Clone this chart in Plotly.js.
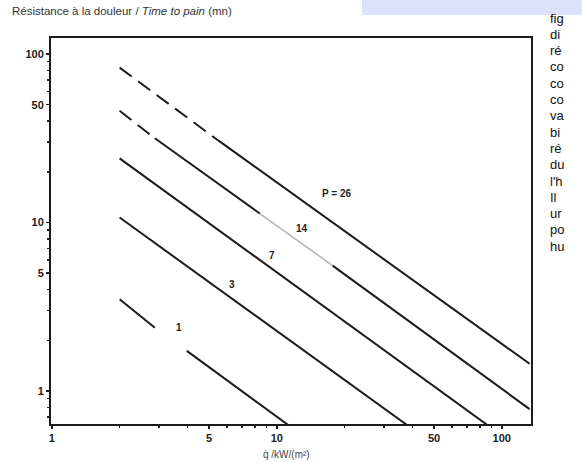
<!DOCTYPE html>
<html>
<head>
<meta charset="utf-8">
<script src="https://cdn.plot.ly/plotly-3.0.1.min.js"></script>
<style>
  html, body { margin: 0; padding: 0; background: #ffffff; overflow: hidden; }
  #chart { width: 582px; height: 462px; }
</style>
</head>
<body>
<div id="chart"></div>
<script>
// ---- data (q in kW/m², t in minutes) ----
const lineLabels = ['1', '3', '7', '14', 'P = 26'];

// P = 1 : solid with a gap around its label
const p1_q = [2, 2.87, null, 3.98, 11.2];
const p1_t = [3.5, 2.37, null, 1.73, 0.63];

// P = 3
const p3_q = [2, 37.8];
const p3_t = [10.7, 0.63];

// P = 7
const p7_q = [2, 86];
const p7_t = [24, 0.63];

// P = 14 : dashed start, faint part near its label, solid elsewhere
const p14_dash_q = [2, 2.87];
const p14_dash_t = [46, 31.6];
const p14_solid_q = [2.87, 8.4, null, 17.7, 133];
const p14_solid_t = [31.6, 11.3, null, 5.55, 0.78];
const p14_faint_q = [8.4, 17.7];
const p14_faint_t = [11.3, 5.55];

// P = 26 : dashed start, then solid
const p26_dash_q = [2, 5.47];
const p26_dash_t = [83, 30.8];
const p26_solid_q = [5.47, 133];
const p26_solid_t = [30.8, 1.45];

// label anchor points (q, t)
const label_q = [3.66, 6.3, 9.5, 12.9, 18.5];
const label_t = [2.37, 4.28, 6.37, 9.2, 14.9];

// axis ticks
const xTickVals = [1, 5, 10, 50, 100];
const yTickVals = [1, 5, 10, 50, 100];
const xMinor = [2, 3, 4, 6, 7, 8, 9, 20, 30, 40, 60, 70, 80, 90];
const yMinor = [0.7, 0.8, 0.9, 2, 3, 4, 6, 7, 8, 9, 20, 30, 40, 60, 70, 80, 90];

// clipped side text fragments
const sideText = ['fig', 'di', 'ré', 'co', 'co', 'co', 'va', 'bi', 'ré', 'du', "l'h", 'Il', 'ur', 'po', 'hu'];

const INK = '#1b1b1b';
const solid = {color: INK, width: 2};

const traces = [
  {x: p1_q, y: p1_t, mode: 'lines', line: solid, connectgaps: false},
  {x: p3_q, y: p3_t, mode: 'lines', line: solid},
  {x: p7_q, y: p7_t, mode: 'lines', line: solid},
  {x: p14_dash_q, y: p14_dash_t, mode: 'lines', line: {color: INK, width: 2, dash: '15px,8px'}},
  {x: p14_solid_q, y: p14_solid_t, mode: 'lines', line: solid, connectgaps: false},
  {x: p14_faint_q, y: p14_faint_t, mode: 'lines', line: {color: '#b4b4b4', width: 1.5}},
  {x: p26_dash_q, y: p26_dash_t, mode: 'lines', line: {color: INK, width: 2, dash: '15px,8px'}},
  {x: p26_solid_q, y: p26_solid_t, mode: 'lines', line: solid}
];

const FONT = 'Liberation Sans, Arial, sans-serif';

const annotations = lineLabels.map((txt, i) => ({
  x: Math.log10(label_q[i]), y: Math.log10(label_t[i]), xref: 'x', yref: 'y',
  text: '<b>' + txt + '</b>', showarrow: false,
  font: {family: FONT, size: 10, color: '#222'}
}));

annotations.push({
  xref: 'paper', yref: 'paper', x: -0.085, y: 1.0, yshift: 27,
  xanchor: 'left', yanchor: 'middle', showarrow: false,
  text: 'Résistance à la douleur / <i>Time to pain</i> (mn)',
  font: {family: FONT, size: 11.5, color: '#333'}
});

annotations.push({
  xref: 'paper', yref: 'paper', x: 0.49, y: 0, yshift: -30,
  xanchor: 'center', yanchor: 'middle', showarrow: false,
  text: 'q̇ /kW/(m²)',
  font: {family: FONT, size: 10, color: '#444'}
});

sideText.forEach((s, i) => {
  annotations.push({
    xref: 'paper', yref: 'paper', x: 1.035, y: 1, yshift: 20 - i * 16.3,
    xanchor: 'left', yanchor: 'middle', showarrow: false,
    text: s, font: {family: FONT, size: 13, color: '#111'}
  });
});

const axisCommon = {
  type: 'log', showgrid: false, zeroline: false,
  showline: true, linecolor: INK, linewidth: 2, mirror: true,
  ticks: 'outside', ticklen: 3, tickwidth: 1.5, tickcolor: INK,
  tickfont: {family: FONT, size: 11, color: '#222', weight: 'bold'}
};

const layout = {
  width: 582, height: 462,
  margin: {l: 51, r: 51, t: 38, b: 38},
  paper_bgcolor: '#ffffff', plot_bgcolor: '#ffffff',
  showlegend: false,
  xaxis: Object.assign({}, axisCommon, {
    range: [-0.004, 2.13],
    tickvals: xTickVals, ticktext: xTickVals.map(String),
    minor: {tickvals: xMinor, ticks: 'outside', ticklen: 2, tickcolor: INK}
  }),
  yaxis: Object.assign({}, axisCommon, {
    range: [-0.196, 2.095],
    tickvals: yTickVals, ticktext: yTickVals.map(String),
    minor: {tickvals: yMinor, ticks: 'outside', ticklen: 2, tickcolor: INK}
  }),
  shapes: [{
    type: 'rect', xref: 'paper', yref: 'paper',
    x0: 0.65, x1: 1.2, y0: 1.0, y1: 1.2,
    fillcolor: '#dce2fa', line: {width: 0}, layer: 'below'
  }],
  annotations: annotations
};

// position the top bar in pixels
const plotH = 462 - 38 - 38;
const plotW = 582 - 51 - 51;
layout.shapes[0].x0 = (362 - 51) / plotW;
layout.shapes[0].x1 = (582 - 51) / plotW;
layout.shapes[0].y0 = (462 - 38 - 15) / plotH;
layout.shapes[0].y1 = (462 - 38) / plotH;

Plotly.newPlot('chart', traces, layout, {displayModeBar: false, staticPlot: true});
</script>
</body>
</html>
